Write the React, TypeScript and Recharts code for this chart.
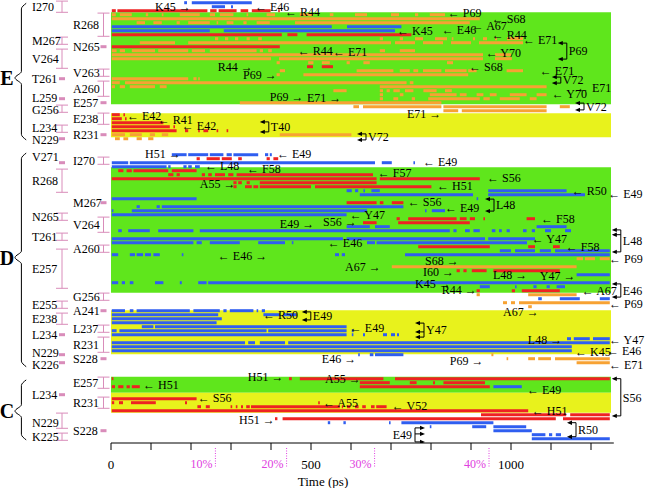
import React from "react";
import {
  ComposedChart,
  XAxis,
  YAxis,
  ReferenceArea,
  ReferenceLine,
  Scatter,
  Line,
  ErrorBar,
} from "recharts";

const FONT = '"Liberation Serif", "DejaVu Serif", serif';
const COLORS: Record<string, string> = {
  r: "#ee2222",
  b: "#2f5ef0",
  o: "#f7a233",
  green: "#5fe61c",
  yellow: "#e8f21c",
};
const PINK = "#d98cba";
const MAGENTA = "#e040e0";
const ROW_PX = 4;

// time axis (ps)
const timeTicks = [0, 100, 200, 300, 400, 500, 600, 700, 800, 900, 1000, 1100, 1200];
const timeLabels = [0, 500, 1000];
const pctMarks = [261, 439, 659, 945];
const pctLabels = ["10%", "20%", "30%", "40%"];

type Row = { row: number; kind: string; seg: [number, number][] };

// background domains (row units)
const bands = [
  { kind: "green", from: 2.4, to: 25.4 },
  { kind: "yellow", from: 27.65, to: 33.65 },
  { kind: "green", from: 41.15, to: 72.5 },
  { kind: "yellow", from: 76.9, to: 87.9 },
  { kind: "green", from: 93.5, to: 97.5 },
  { kind: "yellow", from: 97.5, to: 102.5 },
];

const eRows: Row[] = [
  { row: 0, kind: "b", seg: [[183, 190], [202, 352]] },
  { row: 1, kind: "b", seg: [[252, 285], [300, 305]] },
  { row: 2, kind: "r", seg: [[2, 12], [16, 241], [248, 264], [269, 314], [324, 343], [352, 399], [418, 422]] },
  { row: 3, kind: "o", seg: [[2, 12], [22, 52], [87, 93], [127, 131], [172, 222], [247, 260], [272, 306], [339, 343], [389, 410], [472, 506], [547, 556], [610, 640], [700, 720], [760, 768], [797, 835]] },
  { row: 4, kind: "o", seg: [[2, 922]] },
  { row: 5, kind: "o", seg: [[64, 85], [106, 127], [164, 172], [193, 247], [264, 268], [289, 306], [331, 339], [364, 397], [460, 897]] },
  { row: 6, kind: "b", seg: [[2, 552], [590, 726]] },
  { row: 7, kind: "b", seg: [[2, 247], [282, 710]] },
  { row: 8, kind: "r", seg: [[2, 427], [441, 466], [489, 751]] },
  { row: 9, kind: "o", seg: [[260, 268], [285, 293], [310, 318], [339, 347], [368, 377], [672, 680], [722, 730], [760, 780], [810, 840], [852, 856], [905, 910], [930, 940], [960, 965], [990, 1030]] },
  { row: 10, kind: "o", seg: [[72, 160], [193, 700], [710, 760], [780, 830], [850, 900], [920, 1030]] },
  { row: 11, kind: "r", seg: [[2, 422]] },
  { row: 12, kind: "o", seg: [[2, 14], [22, 35], [52, 110], [118, 193], [202, 235], [247, 364], [372, 380], [393, 402], [672, 685], [722, 760]] },
  { row: 13, kind: "o", seg: [[2, 930], [960, 1000]] },
  { row: 14, kind: "o", seg: [[2, 400], [420, 930], [960, 1002]] },
  { row: 15, kind: "o", seg: [[414, 422], [493, 506], [527, 547], [589, 597], [631, 647], [840, 855]] },
  { row: 16, kind: "r", seg: [[490, 505], [527, 555]] },
  { row: 17, kind: "o", seg: [[422, 435], [614, 706], [722, 747], [756, 768], [780, 826], [835, 889], [893, 914], [989, 1030]] },
  { row: 18, kind: "o", seg: [[414, 422], [481, 893]] },
  { row: 19, kind: "o", seg: [[2, 193], [206, 214], [218, 222]] },
  { row: 20, kind: "o", seg: [[2, 22], [35, 739], [747, 756]] },
  { row: 21, kind: "o", seg: [[2, 10], [22, 35], [47, 110], [122, 139], [672, 1089]] },
  { row: 22, kind: "o", seg: [[556, 589], [672, 680], [689, 697], [706, 722], [735, 756], [781, 814], [835, 852]] },
  { row: 23, kind: "o", seg: [[672, 680], [722, 731], [797, 864], [872, 889], [914, 931], [947, 964], [997, 1039], [1064, 1089]] },
  { row: 24, kind: "o", seg: [[672, 680], [706, 718], [752, 760], [793, 922], [931, 947], [972, 1022], [1047, 1064]] },
  { row: 25, kind: "o", seg: [[322, 826]] },
  { row: 26, kind: "o", seg: [[606, 620], [630, 826], [831, 1089], [1122, 1147]] },
  { row: 27, kind: "o", seg: [[831, 868], [877, 1089]] },
  { row: 28, kind: "r", seg: [[2, 22], [31, 35]] },
  { row: 29, kind: "r", seg: [[2, 27], [35, 39]] },
  { row: 30, kind: "r", seg: [[2, 131]] },
  { row: 31, kind: "r", seg: [[2, 147], [156, 160]] },
  { row: 32, kind: "r", seg: [[2, 164], [185, 193], [218, 222], [231, 243], [264, 268], [289, 293]] },
  { row: 33, kind: "o", seg: [[2, 35], [47, 77], [97, 110], [127, 143], [422, 601]] },
  { row: 34, kind: "o", seg: [[10, 22], [31, 43], [64, 77], [93, 106]] },
];

const dRows: Row[] = [
  { row: 38, kind: "b", seg: [[152, 189], [193, 243], [247, 281], [289, 302], [306, 368], [385, 393], [397, 402]] },
  { row: 39, kind: "r", seg: [[214, 222], [239, 272], [277, 302], [318, 327], [389, 397], [406, 418]] },
  { row: 40, kind: "b", seg: [[2, 43], [47, 660], [677, 702], [756, 760]] },
  { row: 41, kind: "b", seg: [[2, 139], [143, 149], [181, 189], [193, 202], [210, 222]] },
  { row: 42, kind: "r", seg: [[18, 31], [39, 52], [56, 143], [152, 214]] },
  { row: 43, kind: "r", seg: [[143, 156], [164, 172], [227, 235], [243, 252], [260, 285], [293, 306], [314, 655]] },
  { row: 44, kind: "r", seg: [[2, 664], [672, 922]] },
  { row: 45, kind: "r", seg: [[306, 314], [318, 327], [339, 347], [372, 664]] },
  { row: 46, kind: "r", seg: [[306, 314], [335, 352], [356, 368], [372, 500], [510, 801]] },
  { row: 47, kind: "b", seg: [[589, 602], [610, 618], [631, 635], [651, 672], [943, 1139]] },
  { row: 48, kind: "b", seg: [[622, 905], [943, 1185]] },
  { row: 49, kind: "b", seg: [[2, 214], [914, 918]] },
  { row: 50, kind: "r", seg: [[589, 664], [672, 681], [702, 731]] },
  { row: 51, kind: "b", seg: [[64, 72], [114, 122], [127, 731]] },
  { row: 52, kind: "b", seg: [[2, 6], [52, 640], [785, 789], [802, 835]] },
  { row: 53, kind: "b", seg: [[2, 589]] },
  { row: 54, kind: "r", seg: [[714, 722], [743, 864], [872, 889], [897, 910], [931, 935], [1039, 1060]] },
  { row: 55, kind: "r", seg: [[630, 664], [718, 897]] },
  { row: 56, kind: "b", seg: [[589, 647], [660, 697], [1064, 1139]] },
  { row: 57, kind: "b", seg: [[18, 27], [43, 97], [118, 206], [222, 847], [856, 864], [885, 897], [906, 922], [952, 961], [970, 977], [989, 997], [1030, 1039], [1052, 1060], [1085, 1100], [1135, 1150]] },
  { row: 59, kind: "b", seg: [[2, 580], [589, 935], [943, 1060]] },
  { row: 60, kind: "b", seg: [[2, 206], [214, 227], [247, 322], [368, 435], [452, 456], [640, 660], [664, 1040]] },
  { row: 61, kind: "r", seg: [[768, 947], [1043, 1060], [1105, 1122]] },
  { row: 62, kind: "b", seg: [[972, 1000], [1010, 1060], [1072, 1100], [1110, 1247]] },
  { row: 63, kind: "b", seg: [[2, 18], [47, 60], [64, 80], [85, 100], [106, 122], [177, 181], [560, 570], [577, 585], [735, 1247]] },
  { row: 64, kind: "o", seg: [[1164, 1180], [1185, 1210], [1222, 1247]] },
  { row: 66, kind: "o", seg: [[702, 1164]] },
  { row: 67, kind: "r", seg: [[864, 872], [881, 889], [902, 939], [956, 1122]] },
  { row: 68, kind: "b", seg: [[1164, 1247]] },
  { row: 70, kind: "b", seg: [[2, 18], [27, 35], [47, 56], [110, 131], [172, 177], [218, 239], [243, 1247]] },
  { row: 71, kind: "b", seg: [[922, 947], [1010, 1014], [1056, 1064], [1089, 1097], [1114, 1135]] },
  { row: 72, kind: "r", seg: [[914, 922], [1002, 1010], [1027, 1122]] },
  { row: 73, kind: "o", seg: [[914, 922], [1043, 1164]] },
  { row: 74, kind: "b", seg: [[1068, 1077], [1122, 1172], [1222, 1247]] },
  { row: 75, kind: "o", seg: [[980, 990], [1000, 1010], [1020, 1247]] },
  { row: 76, kind: "o", seg: [[1043, 1052]] },
  { row: 77, kind: "b", seg: [[2, 35], [47, 56], [64, 197], [206, 272], [281, 289], [297, 356], [364, 368], [377, 385]] },
  { row: 78, kind: "b", seg: [[2, 268], [381, 422], [431, 464]] },
  { row: 79, kind: "b", seg: [[2, 277]] },
  { row: 80, kind: "b", seg: [[2, 264]] },
  { row: 81, kind: "b", seg: [[77, 106], [110, 589]] },
  { row: 82, kind: "b", seg: [[2, 14], [21, 389], [393, 589], [602, 606]] },
  { row: 83, kind: "b", seg: [[2, 589], [602, 606], [630, 635], [680, 690], [700, 710], [715, 720]] },
  { row: 84, kind: "b", seg: [[1140, 1150], [1157, 1197], [1205, 1247]] },
  { row: 85, kind: "b", seg: [[2, 335], [343, 360], [372, 435], [443, 1247]] },
  { row: 86, kind: "b", seg: [[2, 1152]] },
  { row: 87, kind: "b", seg: [[2, 1152]] },
  { row: 88, kind: "b", seg: [[618, 622], [647, 656], [660, 731]] },
  { row: 88, kind: "o", seg: [[951, 956]] },
  { row: 89, kind: "o", seg: [[989, 993], [1043, 1060], [1068, 1100], [1110, 1247]] },
  { row: 90, kind: "o", seg: [[1164, 1247]] },
];

const cRows: Row[] = [
  { row: 94, kind: "r", seg: [[2, 6], [445, 452], [472, 681], [710, 1247]] },
  { row: 95, kind: "r", seg: [[622, 697], [747, 764], [805, 810], [831, 935]] },
  { row: 96, kind: "r", seg: [[2, 10], [18, 31], [39, 47], [52, 72], [622, 947]] },
  { row: 96, kind: "b", seg: [[956, 1027]] },
  { row: 99, kind: "r", seg: [[2, 214]] },
  { row: 100, kind: "r", seg: [[2, 8], [20, 30], [50, 112], [185, 190], [518, 522]] },
  { row: 101, kind: "r", seg: [[216, 225], [237, 247], [299, 303], [312, 316], [325, 330], [338, 347], [350, 572], [577, 580], [590, 598], [610, 619], [628, 637], [650, 659], [663, 689]] },
  { row: 102, kind: "r", seg: [[2, 1043]] },
  { row: 103, kind: "r", seg: [[925, 1138], [1148, 1247]] },
  { row: 104, kind: "r", seg: [[410, 416], [429, 1112], [1130, 1247]] },
  { row: 105, kind: "b", seg: [[542, 548], [581, 587], [695, 699], [726, 956]] },
  { row: 106, kind: "b", seg: [[797, 801], [903, 938], [956, 1038]] },
  { row: 107, kind: "b", seg: [[956, 1052]] },
  { row: 108, kind: "b", seg: [[1052, 1086], [1095, 1103], [1112, 1125]] },
  { row: 109, kind: "b", seg: [[1052, 1247]] },
];

// residue labels: col 0 = outer, col 1 = inner; tv = text row when it sits off the marker
const residueLabels = [
  { name: "I270", col: 0, from: 0, to: 2 },
  { name: "M267", col: 0, from: 9, to: 10 },
  { name: "V264", col: 0, from: 12, to: 16 },
  { name: "T261", col: 0, from: 19, to: 19 },
  { name: "L259", col: 0, from: 24, to: 24, tv: 23.8 },
  { name: "G256", col: 0, from: 26, to: 27, tv: 26.7 },
  { name: "L234", col: 0, from: 31, to: 32, tv: 31.2 },
  { name: "N229", col: 0, from: 34, to: 34, tv: 34.3 },
  { name: "R268", col: 1, from: 3, to: 8 },
  { name: "N265", col: 1, from: 11, to: 11 },
  { name: "V263", col: 1, from: 17, to: 18 },
  { name: "A260", col: 1, from: 20, to: 23 },
  { name: "E257", col: 1, from: 25, to: 25 },
  { name: "E238", col: 1, from: 28, to: 30 },
  { name: "R231", col: 1, from: 33, to: 33 },
  { name: "V271", col: 0, from: 40, to: 40, tv: 38.5 },
  { name: "R268", col: 0, from: 42, to: 47 },
  { name: "N265", col: 0, from: 53, to: 54 },
  { name: "T261", col: 0, from: 58, to: 59 },
  { name: "E257", col: 0, from: 62, to: 71 },
  { name: "E255", col: 0, from: 75, to: 76 },
  { name: "E238", col: 0, from: 78, to: 80 },
  { name: "L234", col: 0, from: 83, to: 83 },
  { name: "N229", col: 0, from: 88, to: 88, tv: 87.5 },
  { name: "K226", col: 0, from: 90, to: 90, tv: 90.5 },
  { name: "I270", col: 1, from: 39, to: 40 },
  { name: "M267", col: 1, from: 50, to: 50 },
  { name: "V264", col: 1, from: 54, to: 57 },
  { name: "A260", col: 1, from: 61, to: 62 },
  { name: "G256", col: 1, from: 73, to: 74 },
  { name: "A241", col: 1, from: 77, to: 77 },
  { name: "L237", col: 1, from: 81, to: 82 },
  { name: "R231", col: 1, from: 84, to: 87 },
  { name: "S228", col: 1, from: 89, to: 89 },
  { name: "L234", col: 0, from: 98, to: 98 },
  { name: "N229", col: 0, from: 103, to: 106, tv: 105 },
  { name: "K225", col: 0, from: 108, to: 109 },
  { name: "E257", col: 1, from: 94, to: 96 },
  { name: "R231", col: 1, from: 99, to: 101 },
  { name: "S228", col: 1, from: 107, to: 107 },
];

// chain letters with brace extents (row units)
const chains = [
  { name: "E", top: 0.15, mid: 18.8, bottom: 34.3 },
  { name: "D", top: 37.6, mid: 63.7, bottom: 91 },
  { name: "C", top: 94.3, mid: 102.1, bottom: 109.3 },
];

// partner annotations
const notes = [
  { text: "K45 →", t: 110, v: 0.9 },
  { text: "← E46", t: 360, v: 0.95 },
  { text: "← R44", t: 435, v: 2.2 },
  { text: "← P69", t: 842, v: 2.6 },
  { text: "← S68", t: 952, v: 4.1 },
  { text: "← A67", t: 902, v: 5.8 },
  { text: "← E46", t: 827, v: 6.7 },
  { text: "← K45", t: 715, v: 7.1 },
  { text: "← R44", t: 952, v: 8 },
  { text: "← E71", t: 1030, v: 9.2 },
  { text: "← Y70", t: 937, v: 12.6 },
  { text: "← R44", t: 467, v: 12 },
  { text: "← E71", t: 555, v: 12.2 },
  { text: "R44 →", t: 267, v: 16 },
  { text: "P69 →", t: 330, v: 18.1 },
  { text: "← S68", t: 895, v: 16 },
  { text: "← E71", t: 1072, v: 17 },
  { text: "← E71", t: 1165, v: 21.2 },
  { text: "← Y70", t: 1102, v: 22.8 },
  { text: "P69 →", t: 397, v: 23.5 },
  { text: "E71 →", t: 490, v: 23.7 },
  { text: "E71 →", t: 740, v: 27.8 },
  { text: "← E42", t: 40, v: 28.3 },
  { text: "← R41", t: 117, v: 29.3 },
  { text: "← E42", t: 177, v: 30.8 },
  { text: "H51 →", t: 85, v: 37.8 },
  { text: "← E49", t: 415, v: 37.8 },
  { text: "← E49", t: 780, v: 39.8 },
  { text: "← L48", t: 235, v: 40.8 },
  { text: "← F58", t: 340, v: 41.6 },
  { text: "← F57", t: 667, v: 42.6 },
  { text: "A55 →", t: 222, v: 45.3 },
  { text: "← S56", t: 940, v: 43.8 },
  { text: "← H51", t: 815, v: 45.8 },
  { text: "← R50", t: 1152, v: 47 },
  { text: "← E49", t: 1243, v: 47.8 },
  { text: "← S56", t: 742, v: 49.8 },
  { text: "← E49", t: 835, v: 51.3 },
  { text: "← Y47", t: 597, v: 53.1 },
  { text: "E49 →", t: 422, v: 55.3 },
  { text: "S56 →", t: 530, v: 54.8 },
  { text: "← F58", t: 1075, v: 54.1 },
  { text: "← E46", t: 542, v: 60.1 },
  { text: "← E46 →", t: 267, v: 63.3 },
  { text: "← Y47", t: 1052, v: 59.1 },
  { text: "← F58", t: 1137, v: 61.1 },
  { text: "← P69", t: 1245, v: 64.1 },
  { text: "S68 →", t: 785, v: 64.6 },
  { text: "A67 →", t: 585, v: 66.1 },
  { text: "I60 →", t: 780, v: 67.3 },
  { text: "L48 →", t: 955, v: 68.1 },
  { text: "Y47 →", t: 1072, v: 68.3 },
  { text: "K45 →", t: 760, v: 70.3 },
  { text: "R44 →", t: 827, v: 71.8 },
  { text: "← A67", t: 1177, v: 72.1 },
  { text: "← P69", t: 1245, v: 75.3 },
  { text: "A67 →", t: 980, v: 77.3 },
  { text: "← R50", t: 380, v: 78.1 },
  { text: "← E49", t: 597, v: 81.3 },
  { text: "L48 →", t: 1042, v: 84.3 },
  { text: "← Y47", t: 1245, v: 84.3 },
  { text: "← E46", t: 1240, v: 87.1 },
  { text: "← K45", t: 1160, v: 87.3 },
  { text: "E46 →", t: 527, v: 89.1 },
  { text: "P69 →", t: 847, v: 89.6 },
  { text: "← E71", t: 1245, v: 90.6 },
  { text: "H51 →", t: 342, v: 93.6 },
  { text: "A55 →", t: 535, v: 94.1 },
  { text: "← H51", t: 80, v: 95.6 },
  { text: "← S56", t: 217, v: 98.8 },
  { text: "← E49", t: 1040, v: 96.8 },
  { text: "← A55", t: 530, v: 100 },
  { text: "← V52", t: 702, v: 100.8 },
  { text: "← H51", t: 1052, v: 102.1 },
  { text: "H51 →", t: 320, v: 104.3 },
];

// bracketed double arrows
const forks = [
  { name: "P69", t: 1117, v1: 10.1, v2: 14.1, dir: "left", extra: [] as number[] },
  { name: "V72", t: 1102, v1: 18.6, v2: 20.1, dir: "left", extra: [] },
  { name: "V72", t: 1160, v1: 25.1, v2: 26.8, dir: "left", extra: [] },
  { name: "T40", t: 372, v1: 29.8, v2: 32.3, dir: "left", extra: [] },
  { name: "V72", t: 615, v1: 32.8, v2: 34.3, dir: "left", extra: [] },
  { name: "L48", t: 935, v1: 49.1, v2: 52.1, dir: "left", extra: [] },
  { name: "L48", t: 1252, v1: 56.8, v2: 62.3, dir: "left", extra: [58] },
  { name: "E46", t: 1252, v1: 70.3, v2: 73.6, dir: "left", extra: [] },
  { name: "E49", t: 477, v1: 77.3, v2: 79.3, dir: "left", extra: [] },
  { name: "Y47", t: 760, v1: 80.1, v2: 83.6, dir: "left", extra: [82.3] },
  { name: "S56", t: 1252, v1: 94, v2: 103.3, dir: "left", extra: [] },
  { name: "R50", t: 1140, v1: 105, v2: 108.5, dir: "left", extra: [] },
  { name: "E49", t: 760, v1: 106.3, v2: 109.8, dir: "right", extra: [107.8] },
];

const COL_TEXT_T = [-197.5, -95];
const COL_MARK_T = [-122.5, -18.75];

const segments = [...eRows, ...dRows, ...cRows].flatMap((r) =>
  r.seg.map(([a, b]) => ({ row: r.row, kind: r.kind, a, b }))
);

const labelTexts = residueLabels.map((l) => ({
  t: COL_TEXT_T[l.col],
  v: l.tv ?? (l.from + l.to) / 2,
  text: l.name,
}));
const rangeMarks = residueLabels
  .filter((l) => l.to > l.from)
  .map((l) => ({ t: COL_MARK_T[l.col], v: (l.from + l.to) / 2, err: (l.to - l.from) / 2 + 0.4 }));
const dotMarks = residueLabels
  .filter((l) => l.to === l.from)
  .map((l) => ({ t: COL_MARK_T[l.col], v: l.from }));

const braceData = (c: (typeof chains)[number]) => [
  { t: -212, v: c.top },
  { t: -224, v: c.top + 1.4 },
  { t: -224, v: c.mid - 1.6 },
  { t: -240, v: c.mid },
  { t: -224, v: c.mid + 1.6 },
  { t: -224, v: c.bottom - 1.4 },
  { t: -212, v: c.bottom },
];

const LabelShape = (p: any) => (
  <text x={p.cx} y={p.cy} dy="0.35em" fontFamily={FONT} fontSize={12} fill="#000">
    {p.payload.text}
  </text>
);

const NoteShape = (p: any) => (
  <text x={p.cx} y={p.cy} dy="0.35em" fontFamily={FONT} fontSize={12} fill="#000">
    {p.payload.text}
  </text>
);

const ChainShape = (p: any) => (
  <text
    x={p.cx}
    y={p.cy}
    dy="0.36em"
    textAnchor="middle"
    fontFamily={FONT}
    fontSize={20}
    fontWeight="bold"
    fill="#000"
  >
    {p.payload.name}
  </text>
);

const DotMark = (p: any) => <rect x={p.cx - 3} y={p.cy - 1.5} width={6} height={3} fill={PINK} />;

const Hidden = () => <g />;

const arrowHead = (x: number, y: number, dir: number, k: string) => (
  <polygon key={k} points={`${x},${y} ${x - dir * 5},${y - 2.2} ${x - dir * 5},${y + 2.2}`} fill="#000" />
);

const ForkShape = (p: any) => {
  const f = p.payload;
  const x = p.cx;
  const y1 = p.cy;
  const ys = [0, ...f.extra.map((e: number) => (e - f.v1) * ROW_PX), (f.v2 - f.v1) * ROW_PX].map(
    (d) => y1 + d
  );
  const y2 = ys[ys.length - 1];
  if (f.dir === "left") {
    return (
      <g>
        <line x1={x + 9} y1={y1} x2={x + 9} y2={y2} stroke="#000" />
        {ys.map((y, i) => (
          <line key={"l" + i} x1={x + 9} y1={y} x2={x + 2} y2={y} stroke="#000" />
        ))}
        {ys.map((y, i) => arrowHead(x, y, -1, "a" + i))}
        <text x={x + 11} y={(y1 + y2) / 2} dy="0.35em" fontFamily={FONT} fontSize={12} fill="#000">
          {f.name}
        </text>
      </g>
    );
  }
  return (
    <g>
      <line x1={x} y1={y1} x2={x} y2={y2} stroke="#000" />
      {ys.map((y, i) => (
        <line key={"l" + i} x1={x} y1={y} x2={x + 8} y2={y} stroke="#000" />
      ))}
      {ys.map((y, i) => arrowHead(x + 10, y, 1, "a" + i))}
      <text x={x - 3} y={(y1 + y2) / 2} dy="0.35em" textAnchor="end" fontFamily={FONT} fontSize={12} fill="#000">
        {f.name}
      </text>
    </g>
  );
};

const AxisTick = (p: any) => {
  const { x, y, payload } = p;
  const val = payload.value;
  const pi = pctMarks.indexOf(val);
  if (pi >= 0) {
    return (
      <g>
        <line x1={x} y1={y + 5} x2={x} y2={y + 25} stroke={MAGENTA} strokeDasharray="1 1.5" />
        <text x={x - 3} y={y + 21} dy="0.35em" textAnchor="end" fontFamily={FONT} fontSize={12} fill={MAGENTA}>
          {pctLabels[pi]}
        </text>
      </g>
    );
  }
  return (
    <g>
      <line x1={x} y1={y} x2={x} y2={y + 7} stroke="#000" />
      {timeLabels.includes(val) && (
        <text x={x} y={y + 21} dy="0.35em" textAnchor="middle" fontFamily={FONT} fontSize={13} fill="#000">
          {val}
        </text>
      )}
    </g>
  );
};

const Y_MIN = -0.675;
const Y_MAX = 110.075;

export default function App() {
  return (
    <div style={{ position: "absolute", left: 0, top: 0, width: 646, height: 488, background: "#fff" }}>
      <ComposedChart width={646} height={488} margin={{ top: 0, right: 0, bottom: 0, left: 0 }}>
        <XAxis
          dataKey="t"
          type="number"
          domain={[-277.5, 1337.5]}
          allowDataOverflow
          ticks={[...timeTicks, ...pctMarks]}
          interval={0}
          tick={(p: any) => <AxisTick {...p} />}
          tickLine={false}
          axisLine={false}
          tickSize={0}
          tickMargin={0}
          height={45}
          label={{
            value: "Time (ps)",
            position: "insideBottom",
            offset: 2,
            fill: "#000",
            fontSize: 13,
            fontFamily: FONT,
          }}
        />
        <YAxis dataKey="v" type="number" domain={[Y_MIN, Y_MAX]} allowDataOverflow reversed hide />
        {bands.map((b, i) => (
          <ReferenceArea
            key={"band" + i}
            x1={0}
            x2={1250}
            y1={b.from}
            y2={b.to}
            fill={COLORS[b.kind]}
            fillOpacity={1}
            stroke="none"
            ifOverflow="visible"
          />
        ))}
        {segments.map((s, i) => (
          <ReferenceArea
            key={"s" + i}
            x1={s.a}
            x2={s.b}
            y1={s.row - 0.375}
            y2={s.row + 0.375}
            fill={COLORS[s.kind]}
            fillOpacity={1}
            stroke="none"
            ifOverflow="visible"
          />
        ))}
        <ReferenceLine
          segment={[
            { x: 0, y: Y_MAX },
            { x: 1257, y: Y_MAX },
          ]}
          stroke="#000"
          strokeWidth={1}
          ifOverflow="visible"
        />
        {chains.map((c) => (
          <Line
            key={"brace" + c.name}
            data={braceData(c)}
            dataKey="v"
            type="monotoneY"
            stroke="#000"
            strokeWidth={1}
            dot={false}
            activeDot={false}
            isAnimationActive={false}
          />
        ))}
        <Scatter
          data={chains.map((c) => ({ t: -260, v: c.mid, name: c.name }))}
          shape={ChainShape}
          isAnimationActive={false}
        />
        <Scatter data={labelTexts} shape={LabelShape} isAnimationActive={false} />
        <Scatter data={rangeMarks} shape={Hidden} isAnimationActive={false}>
          <ErrorBar dataKey="err" direction="y" width={6} stroke={PINK} strokeWidth={1} />
        </Scatter>
        <Scatter data={dotMarks} shape={DotMark} isAnimationActive={false} />
        <Scatter data={notes} shape={NoteShape} isAnimationActive={false} />
        <Scatter
          data={forks.map((f) => ({ ...f, v: f.v1 }))}
          shape={ForkShape}
          isAnimationActive={false}
        />
      </ComposedChart>
    </div>
  );
}
